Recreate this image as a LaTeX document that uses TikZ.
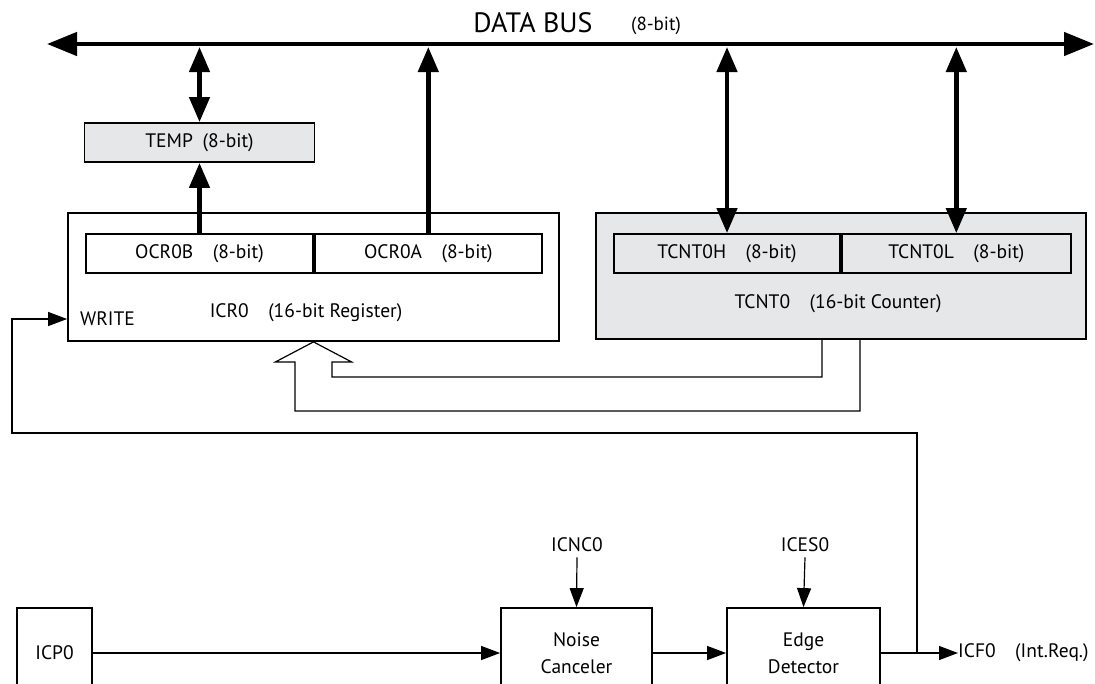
\documentclass[tikz,border=0pt]{standalone}
\usepackage{fontspec}
\setmainfont{PT Sans}
\usetikzlibrary{arrows.meta,positioning,calc}
\definecolor{regfill}{RGB}{230,231,232}
\tikzset{
  busarr/.style={{Triangle[length=30pt,width=23pt]}-{Triangle[length=30pt,width=23pt]}, line width=4.5pt},
  regarr/.style={-{Triangle[length=25pt,width=20pt]}, line width=4.5pt},
  regdbl/.style={{Triangle[length=25pt,width=20pt]}-{Triangle[length=25pt,width=20pt]}, line width=4.5pt},
  sigarr/.style={-{Triangle[length=19pt,width=14pt]}, line width=1.2pt},
  sigln/.style={line width=1.2pt, line join=miter},
  regbox/.style={draw, line width=1.8pt, inner sep=0pt},
  lbl/.style={font=\fontsize{19.5}{27}\selectfont, inner sep=0pt, align=center},
}

\begin{document}
\begin{tikzpicture}[x=1pt,y=-1pt]
    \path[use as bounding box, clip] (0,0) rectangle (1095,683);
    % --- data bus ---
    \coordinate (busL) at (47,44);
    \coordinate (busR) at (1094,44);
    \coordinate (busedge) at (540,47);
    \draw[busarr] (busL) -- (busR);
    \node[lbl, font=\fontsize{28}{32}\selectfont] (bustxt) at (533,23) {DATA BUS};
    \node[lbl, font=\fontsize{19}{22}\selectfont, anchor=west] (buswd) at (631,26) {(8-bit)};
    % --- ICR0 side ---
    \node[regbox, lbl, fill=regfill, minimum width=230pt, minimum height=39pt] (temp) at (199.5,142.5) {TEMP\enspace(8-bit)};
    \node[regbox, minimum width=491pt, minimum height=128pt] (icr) at (313.5,277) {};
    \node[regbox, lbl, minimum width=227pt, minimum height=39pt] (ocrb) at (199.5,253.5) {OCR0B\quad(8-bit)};
    \node[regbox, lbl, minimum width=227pt, minimum height=39pt, right=0pt of ocrb] (ocra) {OCR0A\quad(8-bit)};
    \node[lbl] (icrtxt) at (306,313) {ICR0\quad(16-bit Register)};
    \node[lbl, anchor=west] (write) at (80,319) {WRITE};
    \draw[regdbl] (temp.north) -- (temp.north |- busedge);
    \draw[regarr] (ocrb.north) -- (temp.south);
    \draw[regarr] (ocra.north) -- (ocra.north |- busedge);
    % --- TCNT0 side ---
    \node[regbox, fill=regfill, minimum width=490pt, minimum height=126pt] (tcnt) at (841,276) {};
    \node[regbox, lbl, minimum width=226pt, minimum height=39pt] (tcnth) at (727,253.5) {TCNT0H\quad(8-bit)};
    \node[regbox, lbl, minimum width=229pt, minimum height=39pt, right=0pt of tcnth] (tcntl) {TCNT0L\quad(8-bit)};
    \node[lbl] (tcnttxt) at (838,304) {TCNT0\quad(16-bit Counter)};
    \draw[regdbl] (tcnth.north) -- (tcnth.north |- busedge);
    \draw[regdbl] (tcntl.north) -- (tcntl.north |- busedge);
    % --- hollow transfer arrow ---
    \draw[sigln] ($(tcnt.south)+(-19,0)$) |- ($(icr.south)+(18.5,35)$)
      -- ($(icr.south)+(18.5,20)$) -- ($(icr.south)+(38,20)$) -- (icr.south)
      -- ($(icr.south)+(-38,20)$) -- ($(icr.south)+(-18.5,20)$)
      |- ($(icr.south)+(0,69)$) -| ($(tcnt.south)+(19,0)$);
    % --- input capture chain ---
    \node[regbox, lbl, minimum width=75pt, minimum height=90pt] (icp) at (54.5,653) {ICP0};
    \node[regbox, lbl, minimum width=151pt, minimum height=90pt] (noise) at (576.5,653) {Noise\\Canceler};
    \node[regbox, lbl, minimum width=153pt, minimum height=90pt] (edge) at (803.5,653) {Edge\\Detector};
    \node[lbl] (icnc) at (577,545) {ICNC0};
    \node[lbl] (ices) at (805,545) {ICES0};
    \node[lbl, anchor=west] (icf) at (958,653) {ICF0\quad(Int.Req.)};
    \coordinate (tap) at ($(edge.east)+(36,0)$);
    \coordinate (wbend) at (12,433);
    \draw[sigarr] (icp) -- (noise);
    \draw[sigarr] (noise) -- (edge);
    \draw[sigarr] (edge) -- (icf);
    \draw[sigarr] ($(icnc.south)+(0,5)$) -- (noise.north);
    \draw[sigarr] ($(ices.south)+(0,5)$) -- (edge.north);
    \draw[sigarr] (tap) |- (wbend) |- (icr.west |- write.west);
  \end{tikzpicture}
\end{document}
